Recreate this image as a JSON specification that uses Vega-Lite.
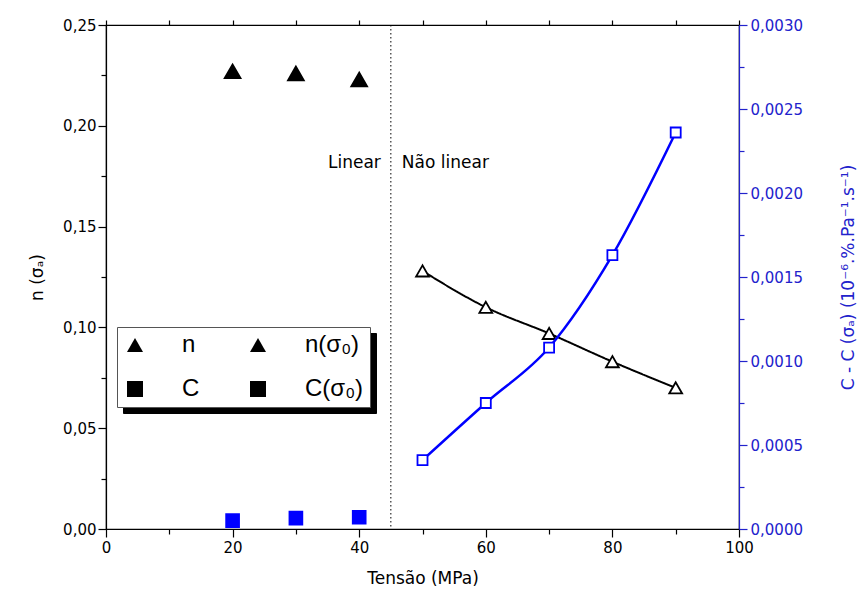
{
  "$schema": "https://vega.github.io/schema/vega-lite/v6.json",
  "width": 633,
  "height": 504,
  "autosize": {"type": "none"},
  "padding": {"left": 106, "top": 25, "right": 123, "bottom": 66},
  "background": "white",
  "config": {
    "view": {"stroke": "black", "strokeWidth": 1.2},
    "font": "DejaVu Sans",
    "axis": {
      "grid": false,
      "labelFont": "DejaVu Sans",
      "labelFontSize": 15,
      "titleFont": "DejaVu Sans",
      "titleFontSize": 17,
      "titleFontWeight": "normal",
      "labelFlush": false,
      "labelOverlap": false,
      "domainWidth": 1.2,
      "tickWidth": 1.2
    }
  },
  "data": {
    "values": [
      {"tensao": 20, "serie": "n", "valor": 0.227},
      {"tensao": 30, "serie": "n", "valor": 0.226},
      {"tensao": 40, "serie": "n", "valor": 0.223},
      {"tensao": 50, "serie": "n(σ₀)", "valor": 0.128},
      {"tensao": 60, "serie": "n(σ₀)", "valor": 0.110},
      {"tensao": 70, "serie": "n(σ₀)", "valor": 0.097},
      {"tensao": 80, "serie": "n(σ₀)", "valor": 0.083},
      {"tensao": 90, "serie": "n(σ₀)", "valor": 0.070},
      {"tensao": 20, "serie": "C", "valor": 0.00005},
      {"tensao": 30, "serie": "C", "valor": 0.000065},
      {"tensao": 40, "serie": "C", "valor": 0.00007},
      {"tensao": 50, "serie": "C(σ₀)", "valor": 0.00041},
      {"tensao": 60, "serie": "C(σ₀)", "valor": 0.00075},
      {"tensao": 70, "serie": "C(σ₀)", "valor": 0.00108},
      {"tensao": 80, "serie": "C(σ₀)", "valor": 0.00163},
      {"tensao": 90, "serie": "C(σ₀)", "valor": 0.00236}
    ]
  },
  "layer": [
    {
      "layer": [
        {
          "data": {"values": [{"limite": 45}]},
          "mark": {"type": "rule", "color": "black", "strokeWidth": 1, "strokeDash": [1.5, 2.5]},
          "encoding": {"x": {"datum": 45, "type": "quantitative"}}
        },
        {
          "data": {"values": [{"regime": "Linear"}]},
          "mark": {"type": "text", "align": "right", "baseline": "middle", "dx": -10, "fontSize": 17, "font": "DejaVu Sans", "color": "black"},
          "encoding": {
            "x": {"datum": 45, "type": "quantitative"},
            "y": {"datum": 0.1815, "type": "quantitative"},
            "text": {"field": "regime"}
          }
        },
        {
          "data": {"values": [{"regime": "Não linear"}]},
          "mark": {"type": "text", "align": "left", "baseline": "middle", "dx": 11, "fontSize": 17, "font": "DejaVu Sans", "color": "black"},
          "encoding": {
            "x": {"datum": 45, "type": "quantitative"},
            "y": {"datum": 0.1815, "type": "quantitative"},
            "text": {"field": "regime"}
          }
        },
        {
          "transform": [{"filter": {"field": "serie", "equal": "n(σ₀)"}}],
          "mark": {"type": "line", "interpolate": "monotone", "strokeWidth": 2, "color": "black"},
          "encoding": {
            "x": {"field": "tensao", "type": "quantitative"},
            "y": {"field": "valor", "type": "quantitative"},
            "strokeDash": {
              "field": "serie",
              "type": "nominal",
              "scale": {"domain": ["C", "C(σ₀)", "n", "n(σ₀)"], "range": [[1, 0], [1, 0], [1, 0], [1, 0]]},
              "legend": {
                "title": null,
                "orient": "none",
                "legendX": 17,
                "legendY": 308,
                "direction": "horizontal",
                "columns": 2,
                "padding": 6,
                "rowPadding": 20,
                "columnPadding": 46,
                "symbolSize": 256,
                "symbolStrokeWidth": 2,
                "labelFont": "Liberation Sans",
                "labelFontSize": 24,
                "labelOffset": 35,
                "labelLimit": 300,
                "strokeColor": "black",
                "fillColor": "black",
                "zindex": 1,
                "encode": {
                  "symbols": {"opacity": {"value": 0}},
                  "labels": {"opacity": {"value": 0}}
                }
              }
            }
          }
        },
        {
          "transform": [{"filter": {"field": "serie", "oneOf": ["n", "n(σ₀)"]}}],
          "mark": {"type": "point", "filled": true, "strokeWidth": 1.8, "opacity": 1},
          "encoding": {
            "x": {
              "field": "tensao",
              "type": "quantitative",
              "scale": {"domain": [0, 100], "nice": false},
              "axis": {
                "orient": "bottom",
                "values": [0, 10, 20, 30, 40, 50, 60, 70, 80, 90, 100],
                "labelExpr": "datum.value % 20 == 0 ? datum.label : ''",
                "tickSize": {"condition": {"test": "datum.value % 20 == 0", "value": 8}, "value": 5},
                "labelPadding": 3,
                "title": "Tensão (MPa)",
                "titlePadding": 15,
                "domainColor": "black",
                "tickColor": "black",
                "labelColor": "black",
                "titleColor": "black"
              }
            },
            "y": {
              "field": "valor",
              "type": "quantitative",
              "scale": {"domain": [0, 0.25], "nice": false},
              "axis": {
                "orient": "left",
                "values": [0, 0.025, 0.05, 0.075, 0.1, 0.125, 0.15, 0.175, 0.2, 0.225, 0.25],
                "labelExpr": "round(datum.value * 40) % 2 == 0 ? replace(format(datum.value, '.2f'), '.', ',') : ''",
                "tickSize": {"condition": {"test": "round(datum.value * 40) % 2 == 0", "value": 8}, "value": 5},
                "labelPadding": 2,
                "title": "n (σₐ)",
                "titlePadding": 16,
                "domainColor": "black",
                "tickColor": "black",
                "labelColor": "black",
                "titleColor": "black"
              }
            },
            "shape": {
              "field": "serie",
              "type": "nominal",
              "scale": {"domain": ["n", "n(σ₀)", "C", "C(σ₀)"], "range": ["triangle-up", "triangle-up", "square", "square"]},
              "legend": {
                "title": null,
                "orient": "none",
                "legendX": 11,
                "legendY": 302,
                "direction": "horizontal",
                "columns": 2,
                "padding": 6,
                "rowPadding": 20,
                "columnPadding": 46,
                "symbolSize": 256,
                "symbolStrokeWidth": 2,
                "labelFont": "Liberation Sans",
                "labelFontSize": 24,
                "labelOffset": 35,
                "labelLimit": 300,
                "strokeColor": "#555555",
                "fillColor": "white",
                "zindex": 2,
                "encode": {
                  "symbols": {
                    "shape": {
                      "condition": [
                        {"test": "datum.value == 'n'", "value": "M-1,0L-1,0M1.375,-0.69L0.5,0.62L2.25,0.62Z"},
                        {"test": "datum.value == 'C'", "value": "M-1,0L-1,0M0.775,-0.6H1.975V0.6H0.775Z"},
                        {"test": "datum.value == 'n(σ₀)'", "value": "M-1,0L-1,0M-0.75,0H2.08M2.92,0H5.75M2.5,-0.7L1.75,0.55L3.25,0.55Z"}
                      ],
                      "value": "M-1,0L-1,0M-0.75,0H1.9M3.1,0H5.75M1.9,-0.6H3.1V0.6H1.9Z"
                    },
                    "fill": {
                      "condition": [
                        {"test": "datum.value == 'n'", "value": "black"},
                        {"test": "datum.value == 'C'", "value": "#0000ff"}
                      ],
                      "value": "white"
                    },
                    "stroke": {
                      "condition": {"test": "datum.value == 'n' || datum.value == 'n(σ₀)'", "value": "black"},
                      "value": "#0000ff"
                    },
                    "strokeWidth": {"value": 2},
                    "opacity": {"value": 1}
                  },
                  "labels": {
                    "fill": {
                      "condition": {"test": "datum.value == 'n' || datum.value == 'n(σ₀)'", "value": "black"},
                      "value": "#0000ff"
                    }
                  }
                }
              }
            },
            "fill": {
              "field": "serie",
              "type": "nominal",
              "scale": {"domain": ["C(σ₀)", "C", "n(σ₀)", "n"], "range": ["white", "#0000ff", "white", "black"]},
              "legend": null
            },
            "stroke": {
              "field": "serie",
              "type": "nominal",
              "scale": {"domain": ["C(σ₀)", "C", "n(σ₀)", "n"], "range": ["#0000ff", "#0000ff", "black", "black"]},
              "legend": null
            },
            "size": {
              "field": "serie",
              "type": "nominal",
              "scale": {"type": "ordinal", "domain": ["C(σ₀)", "C", "n(σ₀)", "n"], "range": [100, 165, 165, 250]},
              "legend": null
            }
          }
        }
      ]
    },
    {
      "layer": [
        {
          "transform": [{"filter": {"field": "serie", "equal": "C(σ₀)"}}],
          "mark": {"type": "line", "interpolate": "monotone", "strokeWidth": 2.5, "color": "#0000ff"},
          "encoding": {
            "x": {"field": "tensao", "type": "quantitative"},
            "y": {"field": "valor", "type": "quantitative"}
          }
        },
        {
          "transform": [{"filter": {"field": "serie", "oneOf": ["C", "C(σ₀)"]}}],
          "mark": {"type": "point", "shape": "square", "filled": true, "strokeWidth": 1.8, "opacity": 1},
          "encoding": {
            "x": {
              "field": "tensao",
              "type": "quantitative",
              "scale": {"domain": [0, 100], "nice": false},
              "axis": {
                "orient": "top",
                "values": [0, 10, 20, 30, 40, 50, 60, 70, 80, 90, 100],
                "labels": false,
                "title": null,
                "domain": false,
                "tickSize": 5,
                "tickColor": "black"
              }
            },
            "y": {
              "field": "valor",
              "type": "quantitative",
              "scale": {"domain": [0, 0.003], "nice": false},
              "axis": {
                "orient": "right",
                "values": [0, 0.00025, 0.0005, 0.00075, 0.001, 0.00125, 0.0015, 0.00175, 0.002, 0.00225, 0.0025, 0.00275, 0.003],
                "labelExpr": "round(datum.value * 4000) % 2 == 0 ? replace(format(datum.value, '.4f'), '.', ',') : ''",
                "tickSize": {"condition": {"test": "round(datum.value * 4000) % 2 == 0", "value": 8}, "value": 5},
                "labelPadding": 3,
                "title": "C - C (σₐ) (10⁻⁶.%.Pa⁻¹.s⁻¹)",
                "titleAngle": 270,
                "titlePadding": 55,
                "domainColor": "#2222cc",
                "tickColor": "#2222cc",
                "labelColor": "#2222cc",
                "titleColor": "#2222cc"
              }
            },
            "fill": {
              "field": "serie",
              "type": "nominal",
              "scale": {"domain": ["C(σ₀)", "C", "n(σ₀)", "n"], "range": ["white", "#0000ff", "white", "black"]},
              "legend": null
            },
            "stroke": {
              "field": "serie",
              "type": "nominal",
              "scale": {"domain": ["C(σ₀)", "C", "n(σ₀)", "n"], "range": ["#0000ff", "#0000ff", "black", "black"]},
              "legend": null
            },
            "size": {
              "field": "serie",
              "type": "nominal",
              "scale": {"type": "ordinal", "domain": ["C(σ₀)", "C", "n(σ₀)", "n"], "range": [100, 165, 165, 250]},
              "legend": null
            }
          }
        }
      ]
    }
  ],
  "resolve": {"scale": {"y": "independent"}, "axis": {"x": "independent"}}
}
